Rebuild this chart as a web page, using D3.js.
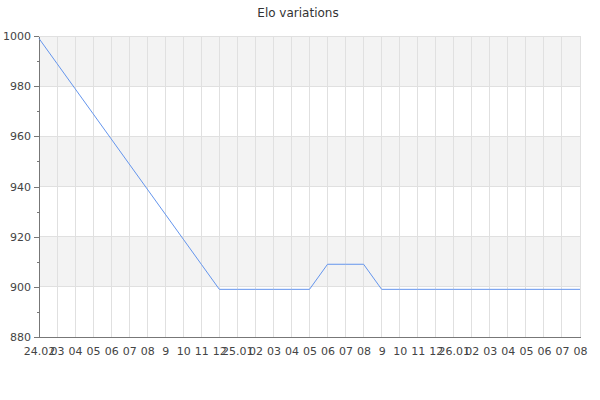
<!DOCTYPE html>
<html>
<head>
<meta charset="utf-8">
<script src="https://d3js.org/d3.v7.min.js"></script>
<style>
  body { margin: 0; background: #fff; }
  text { font-family: "DejaVu Sans", sans-serif; }
</style>
</head>
<body>
<div id="chart"></div>
<script>
// x categories (hour labels over three days)
var labels = ["24.02", "03", "04", "05", "06", "07", "08", "9", "10", "11", "12",
              "25.01", "02", "03", "04", "05", "06", "07", "08", "9", "10", "11", "12",
              "26.01", "02", "03", "04", "05", "06", "07", "08"];
var elo = [999, 989, 979, 969, 959, 949, 939, 929, 919, 909, 899,
           899, 899, 899, 899, 899, 909, 909, 909, 899, 899, 899, 899,
           899, 899, 899, 899, 899, 899, 899, 899];
var yTicks = [880, 900, 920, 940, 960, 980, 1000];
var yMinor = [890, 910, 930, 950, 970, 990];

var width = 600, height = 400;
var plotLeft = 39, plotRight = 580, plotTop = 36, plotBottom = 337;

var svg = d3.select("#chart").append("svg")
    .attr("width", width)
    .attr("height", height);

var x = d3.scalePoint()
    .domain(d3.range(labels.length))
    .range([plotLeft, plotRight]);

var y = d3.scaleLinear()
    .domain([880, 1000])
    .range([plotBottom, plotTop]);

// title
svg.append("text")
    .attr("x", 298)
    .attr("y", 17)
    .attr("text-anchor", "middle")
    .style("font-size", "12px")
    .style("fill", "#333")
    .text("Elo variations");

// alternating bands
var bands = d3.pairs(yTicks).filter(function(d, i) { return i % 2 == 1; });
svg.append("g").selectAll("rect")
    .data(bands)
    .enter().append("rect")
    .attr("x", plotLeft)
    .attr("width", plotRight - plotLeft)
    .attr("y", function(d) { return y(d[1]); })
    .attr("height", function(d) { return y(d[0]) - y(d[1]); })
    .style("fill", "#f3f3f3");

// grid lines
var grid = svg.append("g")
    .style("stroke", "#e0e0e0")
    .style("stroke-width", 1)
    .style("shape-rendering", "crispEdges");

grid.selectAll("line.v")
    .data(d3.range(labels.length))
    .enter().append("line")
    .attr("class", "v")
    .attr("x1", function(d) { return x(d); })
    .attr("x2", function(d) { return x(d); })
    .attr("y1", plotTop)
    .attr("y2", plotBottom);

grid.selectAll("line.h")
    .data(yTicks.slice(1))
    .enter().append("line")
    .attr("class", "h")
    .attr("x1", plotLeft)
    .attr("x2", plotRight)
    .attr("y1", function(d) { return y(d); })
    .attr("y2", function(d) { return y(d); });

// y axis
svg.append("g")
    .attr("transform", "translate(" + plotLeft + ",0)")
    .call(d3.axisLeft(y).tickValues(yTicks).tickSize(5).tickPadding(3)
        .tickSizeOuter(0).tickFormat(d3.format("d")));

svg.append("g")
    .attr("transform", "translate(" + plotLeft + ",0)")
    .call(d3.axisLeft(y).tickValues(yMinor).tickSize(2).tickFormat("").tickSizeOuter(0))
    .select(".domain").remove();

// x axis
svg.append("g")
    .attr("transform", "translate(0," + plotBottom + ")")
    .call(d3.axisBottom(x).tickSize(0).tickPadding(10).tickSizeOuter(0)
        .tickFormat(function(i) { return labels[i]; }));

svg.selectAll(".domain")
    .style("stroke", "#777")
    .style("shape-rendering", "crispEdges");
svg.selectAll(".tick line")
    .style("stroke", "#777")
    .style("shape-rendering", "crispEdges");
svg.selectAll(".tick text")
    .style("font-family", "DejaVu Sans, sans-serif")
    .style("font-size", "11px")
    .style("fill", "#444");

// series
var line = d3.line()
    .x(function(d, i) { return x(i); })
    .y(function(d) { return y(d); });

svg.append("path")
    .datum(elo)
    .attr("d", line)
    .style("fill", "none")
    .style("stroke", "#6495ed")
    .style("stroke-width", 1);
</script>
</body>
</html>
